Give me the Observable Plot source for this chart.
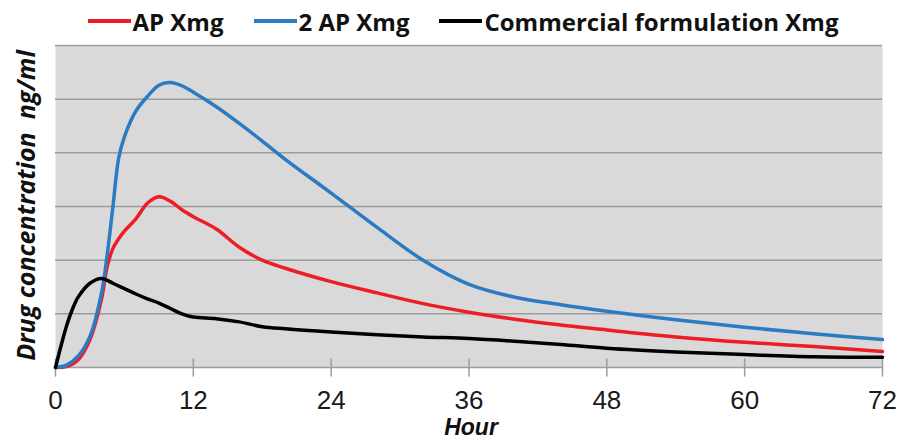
<!DOCTYPE html>
<html>
<head>
<meta charset="utf-8">
<script src="https://cdn.jsdelivr.net/npm/d3@7"></script>
<script src="https://cdn.jsdelivr.net/npm/@observablehq/plot@0.6"></script>
<style>
  html, body { margin: 0; padding: 0; background: #fff; }
  #wrap { width: 900px; height: 441px; overflow: hidden; }
  #legend { height: 42px; display: flex; justify-content: center; align-items: center; gap: 30px;
            font-family: "Open Sans", sans-serif; font-weight: 700; font-size: 24px; color: #111; padding-left: 26px; box-sizing: border-box; }
  .item { display: flex; align-items: center; white-space: nowrap; }
  .sw { display: inline-block; width: 43px; height: 4px; margin-right: 2px; }
</style>
</head>
<body>
<div id="wrap">
  <div id="legend"></div>
  <div id="chart"></div>
</div>
<script>
// Series names (legend order)
const seriesNames = ["AP Xmg", "2 AP Xmg", "Commercial formulation Xmg"];
const seriesColors = ["#ee1c24", "#2b7bc3", "#000000"];

// AP Xmg (red)
const apHours = [0, 1, 2, 3, 4, 4.5, 5, 5.5, 6, 7, 8, 9, 10, 11, 12, 14, 16, 18, 20, 24, 28, 32, 36, 40, 44, 48, 54, 60, 66, 72];
const apConc  = [0, 0.02, 0.15, 0.52, 1.27, 1.88, 2.22, 2.40, 2.54, 2.77, 3.06, 3.18, 3.10, 2.94, 2.81, 2.58, 2.24, 2.00, 1.85, 1.60, 1.39, 1.19, 1.03, 0.90, 0.79, 0.70, 0.57, 0.47, 0.39, 0.30];

// 2 AP Xmg (blue)
const ap2Hours = [0, 1, 2, 3, 4, 4.5, 5, 5.5, 6, 7, 8, 9, 10, 11, 12, 14, 16, 18, 20, 24, 28, 32, 36, 40, 44, 48, 54, 60, 66, 72];
const ap2Conc  = [0, 0.05, 0.22, 0.58, 1.38, 2.10, 3.00, 3.90, 4.30, 4.78, 5.05, 5.26, 5.31, 5.25, 5.13, 4.86, 4.55, 4.22, 3.88, 3.25, 2.61, 2.00, 1.55, 1.31, 1.17, 1.05, 0.89, 0.75, 0.63, 0.52];

// Commercial formulation Xmg (black)
const comHours = [0, 0.5, 1, 1.5, 2, 3, 4, 5, 6, 7, 8, 9, 10, 11, 12, 14, 16, 18, 20, 24, 28, 32, 36, 40, 44, 48, 54, 60, 66, 72];
const comConc  = [0, 0.42, 0.80, 1.10, 1.32, 1.57, 1.66, 1.57, 1.47, 1.37, 1.28, 1.20, 1.10, 1.00, 0.94, 0.91, 0.85, 0.76, 0.72, 0.66, 0.61, 0.57, 0.54, 0.49, 0.43, 0.36, 0.29, 0.24, 0.20, 0.19];

// Axis ticks / labels
const xTicks = [0, 12, 24, 36, 48, 60, 72];
const yGrid = [1, 2, 3, 4, 5, 6];
const xLabel = "Hour";
const yLabel = "Drug concentration  ng/ml";

const data = [];
apHours.forEach((h, i) => data.push({series: seriesNames[0], hour: h, conc: apConc[i]}));
ap2Hours.forEach((h, i) => data.push({series: seriesNames[1], hour: h, conc: ap2Conc[i]}));
comHours.forEach((h, i) => data.push({series: seriesNames[2], hour: h, conc: comConc[i]}));

// Legend
const legend = document.getElementById("legend");
seriesNames.forEach((name, i) => {
  const it = document.createElement("span");
  it.className = "item";
  const sw = document.createElement("span");
  sw.className = "sw";
  sw.style.background = seriesColors[i];
  it.appendChild(sw);
  it.appendChild(document.createTextNode(name));
  legend.appendChild(it);
});

const tickShape = { draw(context, l) { context.moveTo(0, 0); context.lineTo(0, -l); } };

const chart = Plot.plot({
  width: 900,
  height: 399,
  marginTop: 3,
  marginBottom: 74,
  marginLeft: 55,
  marginRight: 18,
  style: { background: "#fff", overflow: "visible" },
  x: { domain: [0, 72] },
  y: { domain: [0, 6] },
  color: { domain: seriesNames, range: seriesColors },
  marks: [
    Plot.frame({ fill: "#d9d9d9", stroke: null }),
    Plot.gridY(yGrid, { stroke: "#9c9c9c", strokeOpacity: 1, strokeWidth: 1.5 }),
    Plot.ruleY([0], { stroke: "#9c9c9c", strokeWidth: 1.5 }),
    Plot.vector(xTicks, { x: d => d, y: 0, length: 17, anchor: "middle", shape: tickShape, stroke: "#9c9c9c", strokeWidth: 1.5 }),
    Plot.axisX(xTicks, { tickSize: 0, tickPadding: 23, fontSize: 26, fontFamily: "Liberation Sans, Arial, sans-serif", fill: "#1a1a1a", label: null }),
    Plot.axisY({ ticks: [], label: null }),
    Plot.text([xLabel], { frameAnchor: "bottom", dy: 67, dx: 2, fontSize: 23, fontWeight: "bold", fontStyle: "italic", fontFamily: "Liberation Sans, Arial, sans-serif", fill: "#111" }),
    Plot.text([yLabel], { frameAnchor: "left", textAnchor: "middle", rotate: -90, dx: -29, dy: -1, fontSize: 25, fontWeight: "bold", fontStyle: "italic", fontFamily: "Open Sans, sans-serif", fill: "#111" }),
    Plot.line(data.filter(d => d.series === seriesNames[0]), { x: "hour", y: "conc", stroke: "series", curve: "catmull-rom", strokeWidth: 3.5 }),
    Plot.line(data.filter(d => d.series === seriesNames[1]), { x: "hour", y: "conc", stroke: "series", curve: "catmull-rom", strokeWidth: 3.5 }),
    Plot.line(data.filter(d => d.series === seriesNames[2]), { x: "hour", y: "conc", stroke: "series", curve: "catmull-rom", strokeWidth: 3.5 })
  ]
});
document.getElementById("chart").appendChild(chart);
</script>
</body>
</html>
